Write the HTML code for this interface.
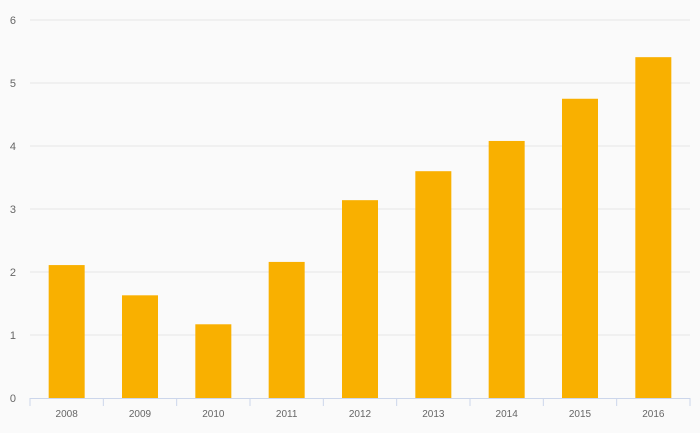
<!DOCTYPE html>
<html><head><meta charset="utf-8"><style>
html,body{margin:0;padding:0;background:#fafafa;}
svg{display:block;font-family:"Liberation Sans",sans-serif;}
</style></head><body>
<svg id="chart" width="700" height="433"></svg>
<script>
const categories=["2008","2009","2010","2011","2012","2013","2014","2015","2016"];
const values=[2.11,1.63,1.17,2.16,3.14,3.60,4.08,4.75,5.41];
const yTicks=[0,1,2,3,4,5,6];
const svg=document.getElementById('chart');
const NS='http://www.w3.org/2000/svg';
const x0=30,x1=690,yBase=398,yTop=20,yMax=6;
const band=(x1-x0)/categories.length;
const y=v=>yBase-(v/yMax)*(yBase-yTop);
const xc=i=>x0+band*(i+0.5);
function mk(t,a){const e=document.createElementNS(NS,t);for(const k in a)e.setAttribute(k,a[k]);svg.appendChild(e);return e;}
yTicks.forEach(t=>{
  if(t>0){const g=mk('line',{x1:x0,x2:x1,y1:y(t),y2:y(t),stroke:'#e6e6e6','stroke-width':1});
  
  }
  const l=mk('text',{x:16,y:y(t)+4,'text-anchor':'end','font-size':11,fill:'#666'});
  l.textContent=t;
  
  
});
categories.forEach((c,i)=>{
  const b=mk('rect',{x:xc(i)-18,y:y(values[i]),width:36,height:yBase-y(values[i]),fill:'#f9b000'});
  
  
  const l=mk('text',{x:xc(i),y:417,'text-anchor':'middle','font-size':10,fill:'#666'});
  l.textContent=c;
  
  
});
for(let i=0;i<=categories.length;i++){
  const t=mk('line',{x1:x0+band*i,x2:x0+band*i,y1:yBase,y2:yBase+8,stroke:'#ccd6eb','stroke-width':1});
  
  
}
const ax=mk('line',{x1:x0,x2:x1,y1:yBase+0.5,y2:yBase+0.5,stroke:'#ccd6eb','stroke-width':1});


</script>
</body></html>
